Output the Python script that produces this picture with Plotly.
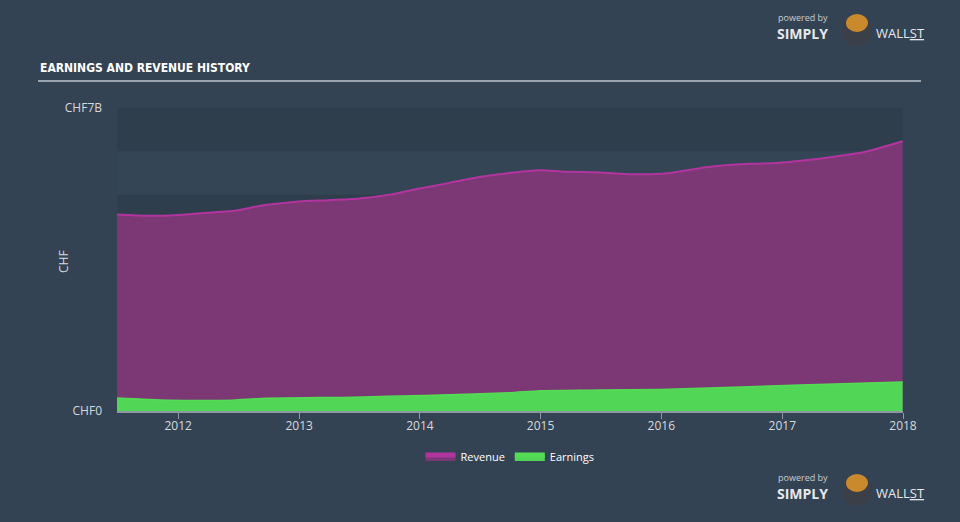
import plotly.graph_objects as go

rev_dates = ["2011-06-30", "2011-09-30", "2011-12-31", "2012-03-31", "2012-06-30", "2012-09-05",
             "2012-12-31", "2013-03-31", "2013-06-30", "2013-10-10", "2013-12-31", "2014-03-31",
             "2014-07-05", "2014-09-30", "2014-12-31", "2015-03-20", "2015-06-30", "2015-10-05",
             "2016-01-20", "2016-05-15", "2016-09-20", "2016-12-15", "2017-02-25", "2017-06-01",
             "2017-09-10", "2017-12-31"]
rev_values = [4.54, 4.51, 4.53, 4.58, 4.64, 4.74, 4.84, 4.87, 4.91, 5.01, 5.14, 5.27,
              5.41, 5.50, 5.56, 5.53, 5.51, 5.47, 5.49, 5.63, 5.71, 5.73, 5.78, 5.87,
              5.99, 6.23]

earn_dates = ["2011-06-30", "2011-12-01", "2012-06-15", "2012-09-05", "2013-06-15",
              "2014-01-15", "2014-09-30", "2014-12-31", "2016-01-20", "2017-02-25", "2017-12-31"]
earn_values = [0.30, 0.25, 0.25, 0.29, 0.32, 0.36, 0.42, 0.47, 0.50, 0.60, 0.67]

tick_vals = ["2012-01-01", "2013-01-01", "2014-01-01", "2015-01-01", "2016-01-01", "2017-01-01", "2018-01-01"]
tick_text = ["2012", "2013", "2014", "2015", "2016", "2017", "2018"]

fig = go.Figure()
fig.add_trace(go.Scatter(
    x=rev_dates, y=rev_values, name="Revenue", mode="lines",
    line=dict(color="#b2359f", width=2, shape="spline", smoothing=0.6),
    fill="tozeroy", fillcolor="#7b3874"))
fig.add_trace(go.Scatter(
    x=earn_dates, y=earn_values, name="Earnings", mode="lines",
    line=dict(color="#55dc55", width=1.5, shape="spline", smoothing=0.6),
    fill="tozeroy", fillcolor="#52d655"))


def px(x):
    return (x - 117) / 786


def py(y):
    return (411 - y) / 303


shapes = []
for lo in [6, 4, 2, 0]:
    shapes.append(dict(type="rect", xref="paper", yref="y", x0=0, x1=1, y0=lo, y1=lo + 1,
                       fillcolor="#2f3e4d", line=dict(width=0), layer="below"))
for lo in [5, 3, 1]:
    shapes.append(dict(type="rect", xref="paper", yref="y", x0=0, x1=1, y0=lo, y1=lo + 1,
                       fillcolor="#344555", line=dict(width=0), layer="below"))
# title underline
shapes.append(dict(type="line", xref="paper", yref="paper",
                   x0=px(38), x1=px(921), y0=py(81), y1=py(81),
                   line=dict(color="#9aa3ad", width=2)))
# logo badges
for oy in [0, 460]:
    shapes.append(dict(type="circle", xref="paper", yref="paper",
                       x0=px(842), x1=px(872), y0=py(30 + oy + 16), y1=py(30 + oy - 14),
                       fillcolor="#3b4048", line=dict(width=0)))
    shapes.append(dict(type="circle", xref="paper", yref="paper",
                       x0=px(846), x1=px(868), y0=py(30 + oy + 2), y1=py(30 + oy - 16),
                       fillcolor="#c98a2e", line=dict(width=0)))

title_font = dict(family="DejaVu Sans Condensed, sans-serif", size=12, color="#ffffff")
annotations = [
    dict(text="<b>EARNINGS AND REVENUE HISTORY</b>", x=px(38), y=py(68), xref="paper", yref="paper",
         xanchor="left", yanchor="middle", showarrow=False, font=title_font),
    dict(text="<b>EARNINGS AND REVENUE HISTORY</b>", x=px(38), y=py(527), xref="paper", yref="paper",
         xanchor="left", yanchor="middle", showarrow=False, font=title_font),
    dict(text="CHF", x=px(63), y=py(262), xref="paper", yref="paper", textangle=-90,
         xanchor="center", yanchor="middle", showarrow=False,
         font=dict(family="Open Sans, sans-serif", size=12, color="#d6dade")),
]
for oy in [0, 460]:
    annotations += [
        dict(text="powered by", x=px(776), y=py(17 + oy), xref="paper", yref="paper",
             xanchor="left", yanchor="middle", showarrow=False,
             font=dict(family="Open Sans, sans-serif", size=9, color="#c9ced4")),
        dict(text="<b>SIMPLY</b>", x=px(775), y=py(33 + oy), xref="paper", yref="paper",
             xanchor="left", yanchor="middle", showarrow=False,
             font=dict(family="Open Sans, sans-serif", size=14, color="#e6e8eb")),
        dict(text="WALL<u>ST</u>", x=px(874), y=py(33 + oy), xref="paper", yref="paper",
             xanchor="left", yanchor="middle", showarrow=False,
             font=dict(family="Open Sans, sans-serif", size=13, color="#e6e8eb")),
    ]

fig.update_layout(
    width=960, height=522,
    margin=dict(l=117, r=57, t=108, b=111),
    paper_bgcolor="#344353",
    plot_bgcolor="rgba(0,0,0,0)",
    shapes=shapes,
    annotations=annotations,
    showlegend=True,
    legend=dict(orientation="h", x=0.5, xanchor="center", y=py(457), yanchor="middle",
                font=dict(family="Open Sans, sans-serif", size=11, color="#ffffff"),
                bgcolor="rgba(0,0,0,0)", itemsizing="constant"),
    xaxis=dict(type="date", range=["2011-06-30", "2018-01-01"], tickvals=tick_vals, ticktext=tick_text,
               showgrid=False, zeroline=False, showline=True, linecolor="#8e98a3", linewidth=2,
               ticks="outside", ticklen=6, tickcolor="#8e98a3", tickwidth=1,
               ticklabelstandoff=-3,
               tickfont=dict(family="Open Sans, sans-serif", size=12, color="#d6dade")),
    yaxis=dict(range=[0, 7], tickvals=[0, 7], ticktext=["CHF0", "CHF7B"], showgrid=False,
               zeroline=False, showline=False, ticks="", ticklabelstandoff=14,
               tickfont=dict(family="Open Sans, sans-serif", size=12, color="#d6dade")),
)

fig.write_html("out.html")
